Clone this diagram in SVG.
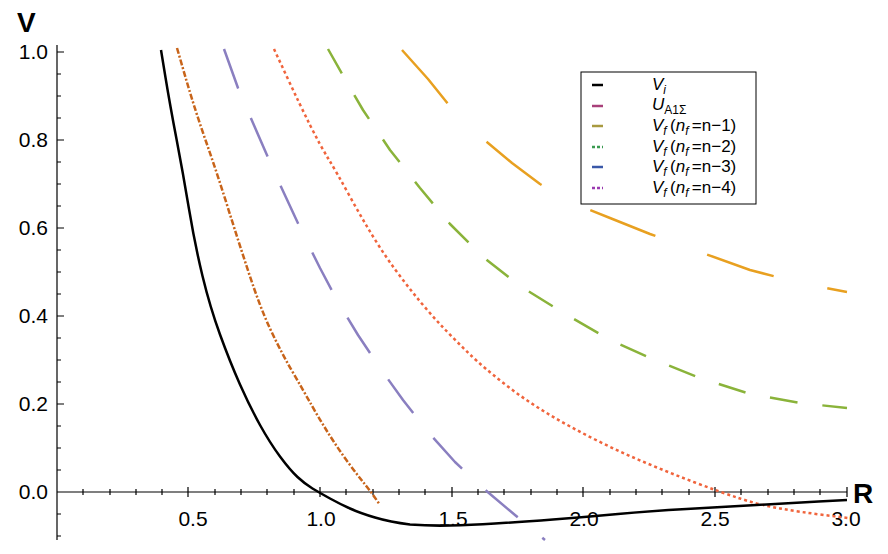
<svg xmlns="http://www.w3.org/2000/svg" width="888" height="554" viewBox="0 0 888 554">
<style>
.t{font-family:"Liberation Sans",Arial,sans-serif;font-size:21px;fill:#000}
.big{font-family:"Liberation Sans",Arial,sans-serif;font-size:28px;font-weight:bold;fill:#000}
.lg{font-family:"Liberation Sans",Arial,sans-serif;font-size:17px;fill:#000}
.c{fill:none;stroke-width:2.5;stroke-linejoin:round}
.ax{stroke:#000;stroke-width:1.2;fill:none}
</style>
<rect width="888" height="554" fill="#fff"/>
<g id="axes">
<line class="ax" x1="57" y1="45" x2="57" y2="540"/>
<line class="ax" x1="57" y1="492" x2="847" y2="492"/>
<path class="ax" d="M83,489v6M110,489v6M136,489v6M162,489v6M188,487v10M215,489v6M241,489v6M267,489v6M294,489v6M320,487v10M346,489v6M373,489v6M399,489v6M425,489v6M452,487v10M478,489v6M504,489v6M531,489v6M557,489v6M583,487v10M610,489v6M636,489v6M662,489v6M689,489v6M715,487v10M741,489v6M768,489v6M794,489v6M820,489v6M847,487v10"/>
<path class="ax" d="M57,52h7M57,74h4M57,96h4M57,118h4M57,140h7M57,162h4M57,184h4M57,206h4M57,228h7M57,250h4M57,272h4M57,294h4M57,316h7M57,338h4M57,360h4M57,382h4M57,404h7M57,426h4M57,448h4M57,470h4M57,514h4M57,536h4"/>
<text class="t" x="48" y="59" text-anchor="end">1.0</text>
<text class="t" x="48" y="147" text-anchor="end">0.8</text>
<text class="t" x="48" y="235" text-anchor="end">0.6</text>
<text class="t" x="48" y="323" text-anchor="end">0.4</text>
<text class="t" x="48" y="411" text-anchor="end">0.2</text>
<text class="t" x="48" y="499" text-anchor="end">0.0</text>
<text class="t" x="193" y="526" text-anchor="middle">0.5</text>
<text class="t" x="321" y="526" text-anchor="middle">1.0</text>
<text class="t" x="453" y="526" text-anchor="middle">1.5</text>
<text class="t" x="584" y="526" text-anchor="middle">2.0</text>
<text class="t" x="715" y="526" text-anchor="middle">2.5</text>
<text class="t" x="846" y="526" text-anchor="middle">3.0</text>
<text class="big" x="17" y="32">V</text>
<text class="big" x="853" y="503">R</text>
</g>
<g id="connectors">
<path id="orange" class="c" stroke="#e8a020" stroke-dasharray="70,55" d="M402,50 L428,79 453,110 482,138 512,163 540,184 570,202 610,218 650,234 700,252 750,270 800,283 847,292"/>
<path id="green" class="c" stroke="#8ab33a" stroke-dasharray="28,25" d="M328,49 L345,79 363,110 390,150 420,188 450,224 483,257 520,286 562,312 610,340 650,358 700,378 750,394 800,403 847,408"/>
<path id="red" class="c" stroke="#f0643c" stroke-dasharray="3,3" d="M274,49 L287,77 Q300,105 310,125 Q320,145 328.5,159 Q337,173 348.5,194 Q360,215 371.5,234 Q383,253 395.5,270 Q408,287 420.5,302 Q433,317 445.5,330 Q458,343 470.5,355 Q483,367 504,383.5 Q525,400 547.5,413.5 Q570,427 595,439.5 Q620,452 645,462.5 Q670,473 695,482.5 Q720,492 740,498.5 Q760,505 780,508.5 Q800,512 824,515 L848,518"/>
<path id="lavender" class="c" stroke="#8a7fc0" stroke-dasharray="42,32" d="M224,49 L238,88 253,123 277,178 302,232 320,268 338,302 358,335 380,368 403,400 428,432 455,462 483,488 515,515 545,540"/>
<path id="brown" class="c" stroke="#c8641a" stroke-dasharray="6,2,2,2" d="M177,48 L186,79 Q195,110 206,141.5 Q217,173 227.5,206.5 Q238,240 249,273.5 Q260,307 270,328.5 Q280,350 291.5,370 Q303,390 311.5,405 Q320,420 328.5,433.5 Q337,447 346,459.5 Q355,472 363.5,482.5 Q372,493 380,505 Q388,517 L403,539"/>
<path id="black" class="c" stroke="#000" d="M161,50 L165.5,77.5 Q170,105 176.5,139 Q183,173 189,209 Q195,245 202.5,276 Q210,307 220,334.5 Q230,362 240,384.5 Q250,407 260,425 Q270,443 280,456.5 Q290,470 297.5,477 Q305,484 312.5,488.5 Q320,493 330,498.5 Q340,504 350,508.5 Q360,513 375,517.5 Q390,522 410,524.5 Q430,526 450,525.5 Q470,525 495,523.5 Q520,522 553,519.5 Q586,517 618,514 Q650,511 686.5,509 Q723,507 756.5,505 Q790,503 818.5,501.5 L847,500"/>
</g>
<g id="legend">
<rect x="581" y="72" width="175" height="132" fill="#fff" stroke="#000" stroke-width="1"/>
<path d="M592,85h11" stroke="#000" stroke-width="2.5"/>
<path d="M592,106h11" stroke="#a8407a" stroke-width="2.5"/>
<path d="M592,126h11" stroke="#a89a40" stroke-width="2.5"/>
<path d="M592,147h11" stroke="#3a9a50" stroke-width="2.5" stroke-dasharray="3,2"/>
<path d="M592,167h11" stroke="#3a58a8" stroke-width="2.5"/>
<path d="M592,188h11" stroke="#9a3ab0" stroke-width="2.5" stroke-dasharray="3,2"/>
<text class="lg" x="652" y="90" font-style="italic">V<tspan font-size="12" dy="4">i</tspan></text>
<text class="lg" x="652" y="110"><tspan font-style="italic">U</tspan><tspan font-size="12" dy="4">A1Σ</tspan></text>
<text class="lg" x="652" y="131"><tspan font-style="italic">V</tspan><tspan font-size="12" font-style="italic" dy="4">f </tspan><tspan dy="-4">(</tspan><tspan font-style="italic">n</tspan><tspan font-size="12" font-style="italic" dy="4">f </tspan><tspan dy="-4">=n−1)</tspan></text>
<text class="lg" x="652" y="152"><tspan font-style="italic">V</tspan><tspan font-size="12" font-style="italic" dy="4">f </tspan><tspan dy="-4">(</tspan><tspan font-style="italic">n</tspan><tspan font-size="12" font-style="italic" dy="4">f </tspan><tspan dy="-4">=n−2)</tspan></text>
<text class="lg" x="652" y="172"><tspan font-style="italic">V</tspan><tspan font-size="12" font-style="italic" dy="4">f </tspan><tspan dy="-4">(</tspan><tspan font-style="italic">n</tspan><tspan font-size="12" font-style="italic" dy="4">f </tspan><tspan dy="-4">=n−3)</tspan></text>
<text class="lg" x="652" y="193"><tspan font-style="italic">V</tspan><tspan font-size="12" font-style="italic" dy="4">f </tspan><tspan dy="-4">(</tspan><tspan font-style="italic">n</tspan><tspan font-size="12" font-style="italic" dy="4">f </tspan><tspan dy="-4">=n−4)</tspan></text>
</g>
</svg>
